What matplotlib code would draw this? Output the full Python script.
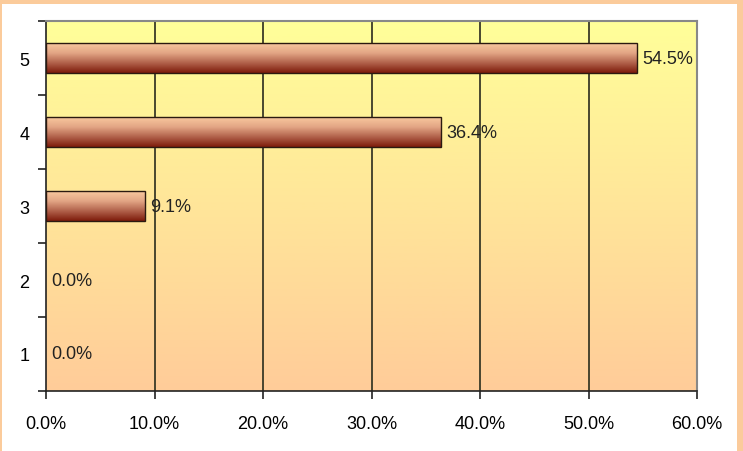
import numpy as np
import matplotlib.pyplot as plt
from matplotlib.colors import LinearSegmentedColormap
from matplotlib.patches import Rectangle
from matplotlib.ticker import FuncFormatter, FixedLocator

plt.rcParams['font.family'] = ['Liberation Sans', 'DejaVu Sans']

# Дані
categories = ['1', '2', '3', '4', '5']
values = [0.0, 0.0, 9.1, 36.4, 54.5]
xticks = [0, 10, 20, 30, 40, 50, 60]

W, H = 743, 452
fig = plt.figure(figsize=(W / 100, H / 100), dpi=100)
ax = fig.add_axes([46 / W, 60 / H, 651 / W, 370 / H])

# Фон з градієнтом (жовтий зверху, персиковий знизу)
bg_cmap = LinearSegmentedColormap.from_list('bg', ['#FFCC99', '#FFFF99'])
grad = np.linspace(0, 1, 256).reshape(-1, 1)
ax.imshow(grad, cmap=bg_cmap, aspect='auto', origin='lower',
          extent=(0, 60, 0.5, 5.5), zorder=0)

# Сітка
for x in xticks[1:-1]:
    ax.axvline(x, color='#3a3a28', lw=1.3, zorder=1)

# Стовпчики з градієнтом
bar_cmap = LinearSegmentedColormap.from_list(
    'bar', ['#7d1a0a', '#b0604a', '#e2a584', '#f9c99f'])
h = 0.4
ypos = np.arange(1, len(categories) + 1)
for y, v in zip(ypos, values):
    if v > 0:
        ax.imshow(grad, cmap=bar_cmap, aspect='auto', origin='lower',
                  extent=(0, v, y - h / 2, y + h / 2), zorder=2)
        ax.add_patch(Rectangle((0, y - h / 2), v, h, fill=False,
                               edgecolor='#2b1a10', lw=1.0, zorder=3))
    ax.text(v + 0.5, y, f'{v:.1f}%', va='center', ha='left',
            fontsize=13, color='#222222', zorder=4)

ax.set_xlim(0, 60)
ax.set_ylim(0.5, 5.5)
ax.xaxis.set_major_locator(FixedLocator(xticks))
ax.xaxis.set_major_formatter(FuncFormatter(lambda x, p: f'{x:.1f}%'))
ax.set_yticks(ypos)
ax.set_yticklabels(categories)
ax.yaxis.set_minor_locator(FixedLocator(np.arange(0.5, 6, 1)))
ax.tick_params(axis='y', which='major', length=0, pad=12, labelsize=13)
ax.tick_params(axis='y', which='minor', length=6, width=1.2, color='#222222')
ax.tick_params(axis='x', length=6, width=1.2, color='#222222', pad=11,
               labelsize=13)

for s in ['top', 'right']:
    ax.spines[s].set_color('#888888')
    ax.spines[s].set_linewidth(1.5)
for s in ['left', 'bottom']:
    ax.spines[s].set_color('#222222')
    ax.spines[s].set_linewidth(1.2)

# Рамка навколо рисунка (зверху, ліворуч, праворуч)
frame = '#FBCB9B'
fig.patches.append(Rectangle((0, 1 - 5 / H), 1, 5 / H, transform=fig.transFigure,
                             color=frame, lw=0))
fig.patches.append(Rectangle((0, 0), 2 / W, 1, transform=fig.transFigure,
                             color=frame, lw=0))
fig.patches.append(Rectangle((1 - 6 / W, 0), 6 / W, 1, transform=fig.transFigure,
                             color=frame, lw=0))

fig.savefig('out.png', dpi=100)
